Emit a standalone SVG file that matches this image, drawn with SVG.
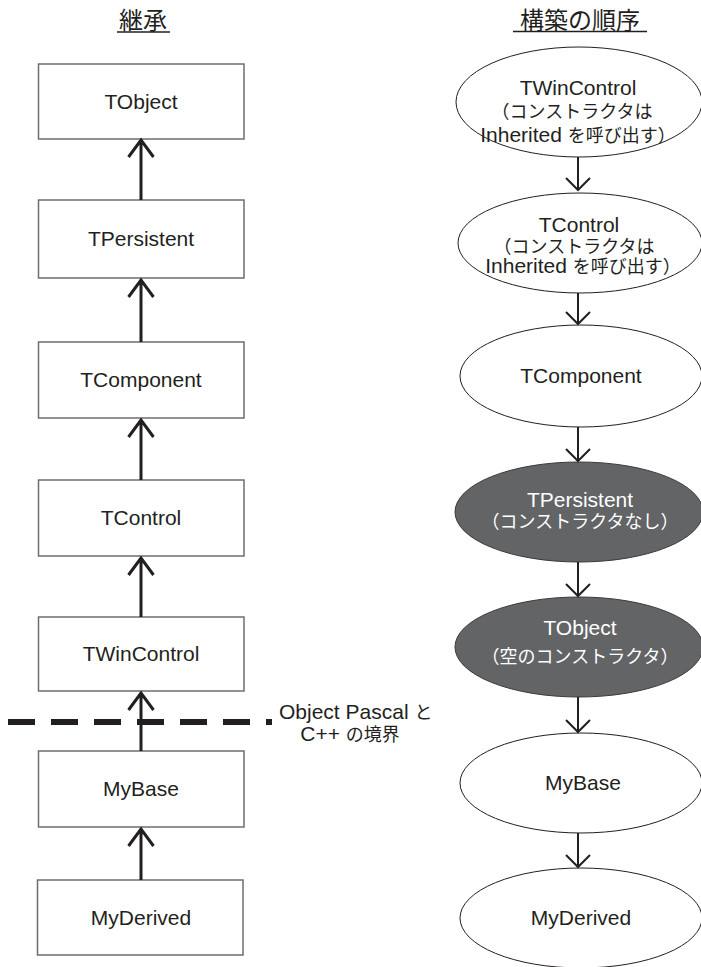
<svg xmlns="http://www.w3.org/2000/svg" width="701" height="967" viewBox="0 0 701 967">
<style>
.t{font-family:"Liberation Sans","Noto Sans CJK JP",sans-serif;font-size:21px;fill:#231f20;text-anchor:middle}
.j{font-family:"Noto Sans CJK JP",sans-serif;font-size:18px}
.w{fill:#ffffff}
.h{font-family:"Noto Sans CJK JP",sans-serif;font-size:24px;fill:#231f20;text-anchor:middle}
.box{fill:#ffffff;stroke:#6d6e70;stroke-width:1.5}
.el{fill:#ffffff;stroke:#231f20;stroke-width:1}
.dk{fill:#636466;stroke:#3a3a3c;stroke-width:1}
.la{fill:none;stroke:#231f20;stroke-width:3}
.ra{fill:none;stroke:#231f20;stroke-width:2}
</style>
<rect width="701" height="967" fill="#ffffff"/>
<g id="titles">
<text class="h" x="143" y="29">継承</text>
<line x1="117" y1="32" x2="170" y2="32" stroke="#231f20" stroke-width="1.6"/>
<text class="h" x="580" y="28.5">構築の順序</text>
<line x1="513" y1="31.5" x2="647" y2="31.5" stroke="#231f20" stroke-width="1.6"/>
</g>
<g id="boundary">
<line x1="8" y1="722" x2="272" y2="722" stroke="#231f20" stroke-width="6" stroke-dasharray="27 16"/>
<text class="t" x="279" y="719" style="text-anchor:start">Object Pascal <tspan class="j">と</tspan></text>
<text class="t" x="350" y="741">C++ <tspan class="j">の境界</tspan></text>
</g>
<g id="n-tobject"><rect class="box" x="38.5" y="64" width="205.5" height="75"/><text class="t" x="141" y="109">TObject</text></g>
<g id="n-tpersistent"><rect class="box" x="38.5" y="200" width="205.5" height="78"/><text class="t" x="141" y="246">TPersistent</text></g>
<g id="n-tcomponent"><rect class="box" x="38.5" y="342" width="205.5" height="76"/><text class="t" x="141" y="387">TComponent</text></g>
<g id="n-tcontrol"><rect class="box" x="38.5" y="480" width="205.5" height="76"/><text class="t" x="141" y="525">TControl</text></g>
<g id="n-twincontrol"><rect class="box" x="38.5" y="617" width="205.5" height="74"/><text class="t" x="141" y="661">TWinControl</text></g>
<g id="n-mybase"><rect class="box" x="38.5" y="751" width="205.5" height="76"/><text class="t" x="141" y="796">MyBase</text></g>
<g id="n-myderived"><rect class="box" x="37.5" y="880" width="205.5" height="75"/><text class="t" x="141" y="925">MyDerived</text></g>

<g id="e-twincontrol"><ellipse class="el" cx="579" cy="102" rx="123" ry="55"/>
<text class="t" x="578" y="95">TWinControl</text>
<text class="t j" x="572" y="118">（コンストラクタは</text>
<text class="t" x="578" y="142">Inherited <tspan class="j">を呼び出す）</tspan></text></g>
<g id="e-tcontrol"><ellipse class="el" cx="580" cy="243" rx="122" ry="50"/>
<text class="t" x="579" y="232">TControl</text>
<text class="t j" x="574" y="253">（コンストラクタは</text>
<text class="t" x="583" y="273">Inherited <tspan class="j">を呼び出す）</tspan></text></g>
<g id="e-tcomponent"><ellipse class="el" cx="581" cy="376" rx="121" ry="51"/>
<text class="t" x="581" y="383">TComponent</text></g>
<g id="e-tpersistent"><ellipse class="dk" cx="579" cy="512" rx="124" ry="50"/>
<text class="t w" x="580" y="507">TPersistent</text>
<text class="t j w" x="580" y="528">（コンストラクタなし）</text></g>
<g id="e-tobject"><ellipse class="dk" cx="579" cy="647" rx="124" ry="50"/>
<text class="t w" x="580" y="635">TObject</text>
<text class="t j w" x="580" y="663">（空のコンストラクタ）</text></g>
<g id="e-mybase"><ellipse class="el" cx="581" cy="783" rx="121" ry="50"/>
<text class="t" x="583" y="790">MyBase</text></g>
<g id="e-myderived"><ellipse class="el" cx="581" cy="918" rx="121" ry="50"/>
<text class="t" x="581" y="925">MyDerived</text></g>

<g id="connectors">
<path class="la" d="M141 200V140M128.5 157L141 140L153.5 157"/>
<path class="la" d="M141 342V280M128.5 297L141 280L153.5 297"/>
<path class="la" d="M141 480V420M128.5 437L141 420L153.5 437"/>
<path class="la" d="M141 617V558M128.5 575L141 558L153.5 575"/>
<path class="la" d="M141 751V693M128.5 710L141 693L153.5 710"/>
<path class="la" d="M141 880V829M128.5 846L141 829L153.5 846"/>
<path class="ra" d="M578 157V190M566 178L578 190L590 178"/>
<path class="ra" d="M578 293V324M566 312L578 324L590 312"/>
<path class="ra" d="M578 427V461M566 449L578 461L590 449"/>
<path class="ra" d="M578 562V596M566 584L578 596L590 584"/>
<path class="ra" d="M578 697V732M566 720L578 732L590 720"/>
<path class="ra" d="M578 833V867M566 855L578 867L590 855"/>
</g>
</svg>
